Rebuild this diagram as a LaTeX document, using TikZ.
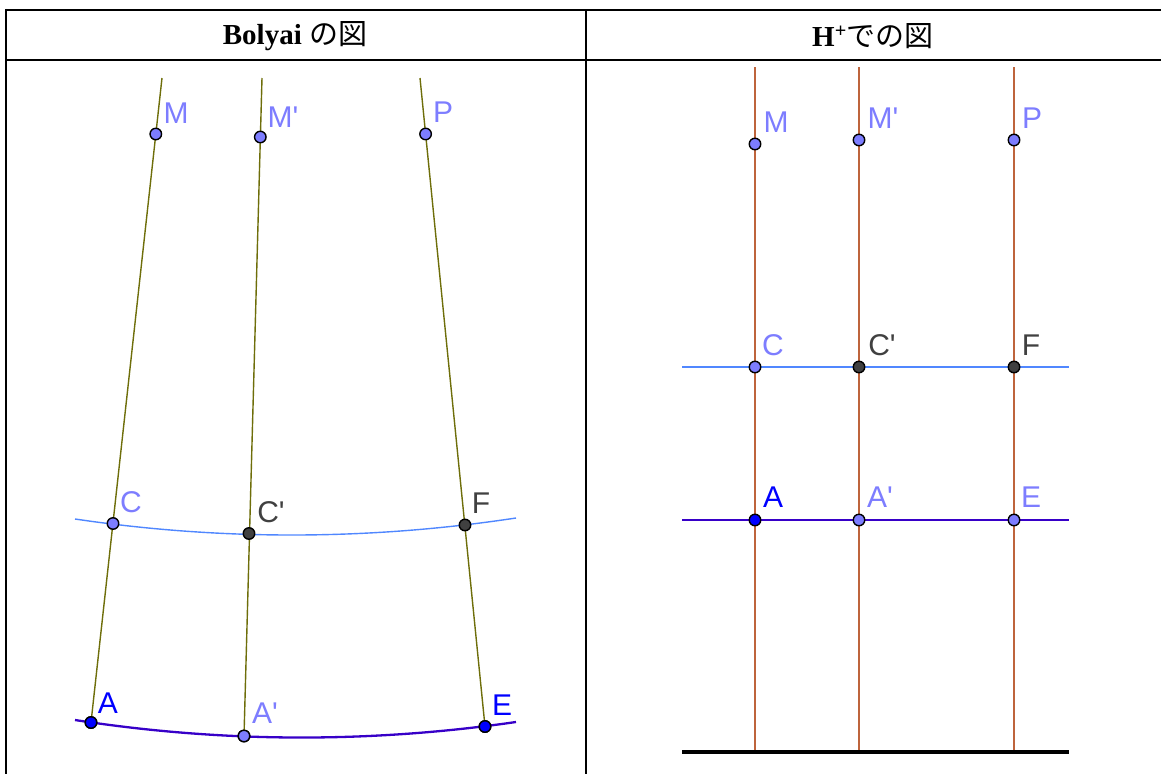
\documentclass[tikz,border=0pt]{standalone}
\usepackage{fontspec}
\setmainfont{Liberation Serif}
\newfontfamily\labfont{Liberation Sans}
\newfontfamily\jpfont{Noto Sans CJK JP}
\definecolor{olivel}{RGB}{110,110,10}
\definecolor{cline}{RGB}{80,135,255}
\definecolor{aline}{RGB}{55,0,200}
\definecolor{brownl}{RGB}{190,100,60}
\definecolor{ptlight}{RGB}{125,125,255}
\definecolor{ptdark}{RGB}{64,64,64}
\definecolor{ptblue}{RGB}{0,0,255}
\tikzset{
  pt/.style={circle,draw=black,line width=1.4pt,inner sep=0pt,minimum size=11.5pt,fill=#1},
  lab/.style={text=#1,font=\labfont\fontsize{30}{30}\selectfont,inner sep=0pt,anchor=center},
  hdr/.style={font=\fontsize{29}{30}\selectfont\bfseries,inner sep=0pt},
  frame/.style={line width=2.4pt,black},
  ol/.style={olivel,line width=1.4pt},
  br/.style={brownl,line width=1.9pt}
}
\begin{document}
\begin{tikzpicture}[x=1pt,y=-1pt]
\useasboundingbox (0,0) rectangle (1161,774);
% table
\draw[frame] (6,10) -- (1161,10);
\draw[frame] (6,60) -- (1161,60);
\draw[frame] (6,8.8) -- (6,774);
\draw[frame] (586,10) -- (586,774);
\node[hdr] (h1) at (295,36) {Bolyai {\jpfont\mdseries の図}};
\node[hdr] (h2) at (873,36) {H\textsuperscript{+}{\jpfont\mdseries での図}};
% ---------- left panel ----------
\coordinate (t1) at (162,78);
\coordinate (t2) at (262,78);
\coordinate (t3) at (420,78);
\coordinate (cl0) at (75,519);
\coordinate (cl1) at (516,518);
\coordinate (al0) at (75,720);
\coordinate (al1) at (516,722);
\draw[cline,line width=1.4pt] (cl0) .. controls (221.7,540.7) and (368.7,540.3) .. (cl1);
\draw[aline,line width=2.3pt] (al0) .. controls (221.7,742.7) and (368.7,743.3) .. (al1);
\node[pt=ptblue] (A) at (91,722.5) {};
\node[pt=ptlight] (Ap) at (244,736) {};
\node[pt=ptblue] (E) at (485,726.5) {};
\draw[ol] (t1) -- (A.center);
\draw[ol] (t2) -- (Ap.center);
\draw[ol] (t3) -- (E.center);
\node[pt=ptblue] at (A) {};
\node[pt=ptlight] at (Ap) {};
\node[pt=ptblue] at (E) {};
\node[pt=ptlight] (M) at (155.8,134) {};
\node[pt=ptlight] (Mp) at (260.3,137) {};
\node[pt=ptlight] (P) at (425.6,134) {};
\node[pt=ptlight] (C) at (113,523.5) {};
\node[pt=ptdark] (Cp) at (249,533.5) {};
\node[pt=ptdark] (F) at (465,525) {};
\node[lab=ptlight] (lM) at (176,113) {M};
\node[lab=ptlight] (lMp) at (283,117) {M'};
\node[lab=ptlight] (lP) at (443,112) {P};
\node[lab=ptlight] (lC) at (131,502) {C};
\node[lab=ptdark] (lCp) at (271,512) {C'};
\node[lab=ptdark] (lF) at (481,503) {F};
\node[lab=ptblue] (lA) at (108,703) {A};
\node[lab=ptlight] (lAp) at (265,713) {A'};
\node[lab=ptblue] (lE) at (502,705) {E};
% ---------- right panel ----------
\coordinate (r1t) at (755,67);
\coordinate (r2t) at (859,67);
\coordinate (r3t) at (1014,67);
\coordinate (bl0) at (682,752);
\coordinate (bl1) at (1069,752);
\coordinate (r1b) at (755,752);
\coordinate (r2b) at (859,752);
\coordinate (r3b) at (1014,752);
\coordinate (hc0) at (682,367);
\coordinate (hc1) at (1069,367);
\coordinate (ha0) at (682,520);
\coordinate (ha1) at (1069,520);
\draw[br] (r1t) -- (r1b);
\draw[br] (r2t) -- (r2b);
\draw[br] (r3t) -- (r3b);
\draw[cline,line width=1.6pt] (hc0) -- (hc1);
\draw[aline,line width=2.3pt] (ha0) -- (ha1);
\draw[black,line width=3.8pt] (bl0) -- (bl1);
\node[pt=ptlight] (RM) at (755,144) {};
\node[pt=ptlight] (RMp) at (859,140) {};
\node[pt=ptlight] (RP) at (1014,140) {};
\node[pt=ptlight] (RC) at (755,367) {};
\node[pt=ptdark] (RCp) at (859,367) {};
\node[pt=ptdark] (RF) at (1014,367) {};
\node[pt=ptblue] (RA) at (755,520) {};
\node[pt=ptlight] (RAp) at (859,520) {};
\node[pt=ptlight] (RE) at (1014,520) {};
\node[lab=ptlight] (rlM) at (776,122) {M};
\node[lab=ptlight] (rlMp) at (883,118) {M'};
\node[lab=ptlight] (rlP) at (1032,118) {P};
\node[lab=ptlight] (rlC) at (773,345) {C};
\node[lab=ptdark] (rlCp) at (882,345) {C'};
\node[lab=ptdark] (rlF) at (1031,345) {F};
\node[lab=ptblue] (rlA) at (773,497) {A};
\node[lab=ptlight] (rlAp) at (880,497) {A'};
\node[lab=ptlight] (rlE) at (1031,497) {E};
\end{tikzpicture}
\end{document}
